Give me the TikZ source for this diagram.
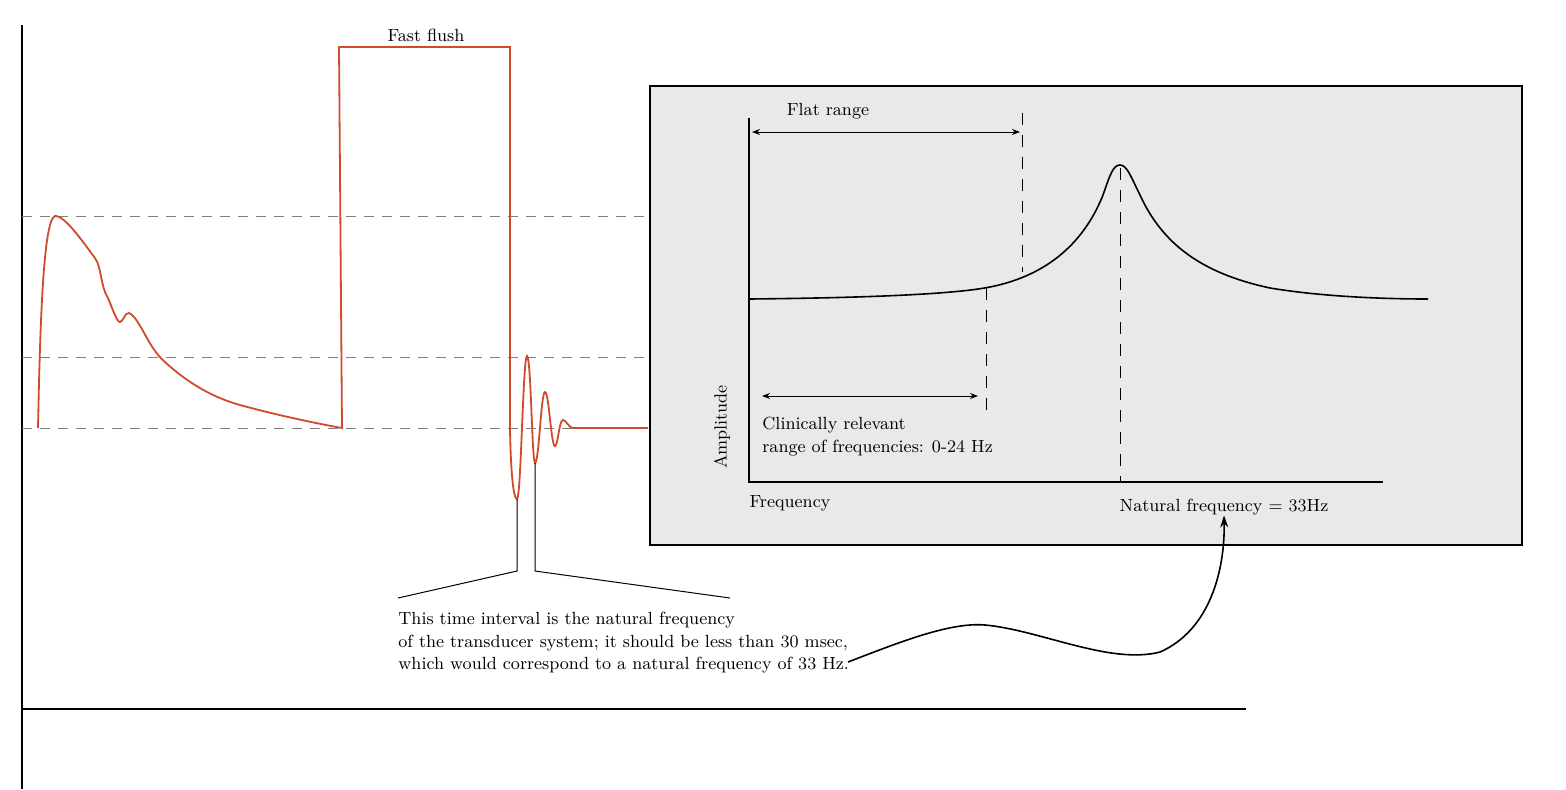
\documentclass[tikz,border=0pt]{standalone}
\usetikzlibrary{arrows.meta}
\definecolor{wave}{HTML}{D04A2C}
\definecolor{boxgray}{HTML}{E9E9E9}
\begin{document}
\begin{tikzpicture}[x=0.5pt,y=-0.5pt,
  txt/.style={font=\fontsize{8.8}{11.2}\selectfont,inner sep=0pt},
  hdash/.style={gray,dash pattern=on 5pt off 4pt,line width=0.4pt},
  vdash/.style={black,dash pattern=on 6pt off 5pt,line width=0.4pt},
  wv/.style={wave,line width=0.9pt},
  ax/.style={black,line width=0.8pt}]
\useasboundingbox (0,0) rectangle (1566,789);
% axes
\draw[ax] (22,25) -- (22,789);
\draw[ax] (22,709) -- (1246,709);
% dashed levels
\foreach \y in {216,357,428} \draw[hdash] (22,\y) -- (650,\y);
% waveform
\draw[wv] (38,428) .. controls (40,330) and (43,220) .. (55,216)
  .. controls (65,215) and (85,245) .. (95,258)
  .. controls (102,268) and (100,285) .. (108,298)
  .. controls (113,310) and (117,322) .. (120,322)
  .. controls (123,322) and (125,312) .. (129,313)
  .. controls (140,318) and (148,348) .. (165,362)
  .. controls (190,385) and (215,398) .. (240,405)
  .. controls (280,416) and (320,424) .. (342,428)
  -- (339,47) -- (510,47) -- (510,430)
  .. controls (511,480) and (514,499) .. (517,499)
  .. controls (521,499) and (523,356) .. (527,356)
  .. controls (531,356) and (532,463) .. (535,463)
  .. controls (539,463) and (541,392) .. (545,392)
  .. controls (549,392) and (551,446) .. (555,446)
  .. controls (558,446) and (559,420) .. (563,420)
  .. controls (566,420) and (569,428) .. (573,428) -- (648,428);
\node[txt] (ff) at (426,35) {Fast flush};
% gray box
\node[draw,ax,fill=boxgray,minimum width=436pt,minimum height=229.5pt,inner sep=0pt] (box) at (1086,315.5) {};
\draw[ax,line width=0.7pt] (749,118) -- (749,482) -- (1383,482);
\draw[black,line width=0.8pt] (749,299) .. controls (850,298) and (950,295) .. (990,287)
  .. controls (1050,275) and (1085,240) .. (1103,195)
  .. controls (1110,175) and (1113,165) .. (1120,165)
  .. controls (1127,165) and (1131,177) .. (1140,195)
  .. controls (1165,250) and (1210,275) .. (1270,288)
  .. controls (1330,298) and (1400,299) .. (1428,299);
\draw[vdash] (1022,113) -- (1022,272);
\draw[vdash] (986,288) -- (986,413);
\draw[vdash] (1120,168) -- (1120,482);
\coordinate (fa) at (752,132); \coordinate (fb) at (1020,132);
\draw[{Stealth[length=4pt,width=3pt]}-{Stealth[length=4pt,width=3pt]},line width=0.4pt] (fa) -- (fb);
\node[txt] (flat) at (828,111) {Flat range};
\coordinate (ca) at (762,396); \coordinate (cb) at (978,396);
\draw[{Stealth[length=4pt,width=3pt]}-{Stealth[length=4pt,width=3pt]},line width=0.4pt] (ca) -- (cb);
\node[txt,anchor=north west,align=left] (clin) at (762,417) {Clinically relevant\\range of frequencies: 0-24 Hz};
\node[txt,rotate=90] (amp) at (722,427) {Amplitude};
\node[txt] (freq) at (790,503) {Frequency};
\node[txt] (nat) at (1224,507) {Natural frequency = 33Hz};
% bracket
\coordinate (b1) at (517,499); \coordinate (b2) at (535,463);
\coordinate (b1d) at (517,571); \coordinate (b2d) at (535,571);
\coordinate (bl) at (398,598); \coordinate (br) at (730,598);
\draw[line width=0.5pt] (b1) -- (b1d) -- (bl);
\draw[line width=0.5pt] (b2) -- (b2d) -- (br);
\node[txt,anchor=north west,align=left] (note) at (398,612) {This time interval is the natural frequency\\of the transducer system; it should be less than 30 msec,\\which would correspond to a natural frequency of 33 Hz.};
\coordinate (cs) at (848,662);
\draw[-{Stealth[length=6pt,width=4pt]},line width=0.8pt] (cs) .. controls (900,642) and (950,622) .. (985,625)
  .. controls (1040,630) and (1110,665) .. (1160,652)
  .. controls (1210,630) and (1225,570) .. (nat.south);
\end{tikzpicture}
\end{document}
